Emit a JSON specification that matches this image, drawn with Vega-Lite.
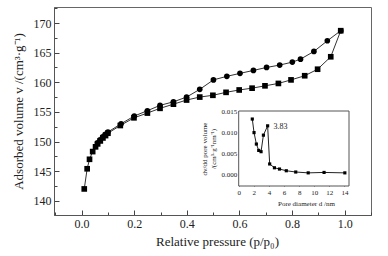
{
  "$schema": "https://vega.github.io/schema/vega-lite/v6.json",
  "width": 317,
  "height": 208,
  "autosize": {"type": "none"},
  "padding": {"left": 54, "top": 7, "right": 17, "bottom": 41},
  "background": "white",
  "config": {
    "view": {"stroke": "#666", "strokeWidth": 1},
    "font": "Liberation Serif",
    "axis": {"labelFont": "Liberation Serif", "titleFont": "Liberation Serif", "labelColor": "#222", "titleColor": "#222", "titleFontWeight": "normal", "domainColor": "#555", "tickColor": "#444", "grid": false}
  },
  "datasets": {
    "iso": [
      {"p": 0.01, "v": 142.0, "branch": "ads"},
      {"p": 0.021, "v": 145.4, "branch": "ads"},
      {"p": 0.03, "v": 147.0, "branch": "ads"},
      {"p": 0.042, "v": 148.3, "branch": "ads"},
      {"p": 0.053, "v": 149.1, "branch": "ads"},
      {"p": 0.061, "v": 149.6, "branch": "ads"},
      {"p": 0.071, "v": 150.1, "branch": "ads"},
      {"p": 0.081, "v": 150.6, "branch": "ads"},
      {"p": 0.091, "v": 151.0, "branch": "ads"},
      {"p": 0.1, "v": 151.4, "branch": "ads"},
      {"p": 0.147, "v": 152.7, "branch": "ads"},
      {"p": 0.199, "v": 154.0, "branch": "ads"},
      {"p": 0.25, "v": 154.8, "branch": "ads"},
      {"p": 0.298, "v": 155.6, "branch": "ads"},
      {"p": 0.349, "v": 156.3, "branch": "ads"},
      {"p": 0.399, "v": 157.0, "branch": "ads"},
      {"p": 0.449, "v": 157.5, "branch": "ads"},
      {"p": 0.499, "v": 157.8, "branch": "ads"},
      {"p": 0.549, "v": 158.3, "branch": "ads"},
      {"p": 0.599, "v": 158.7, "branch": "ads"},
      {"p": 0.648, "v": 159.0, "branch": "ads"},
      {"p": 0.697, "v": 159.4, "branch": "ads"},
      {"p": 0.748, "v": 159.8, "branch": "ads"},
      {"p": 0.796, "v": 160.4, "branch": "ads"},
      {"p": 0.848, "v": 161.1, "branch": "ads"},
      {"p": 0.897, "v": 162.2, "branch": "ads"},
      {"p": 0.947, "v": 164.3, "branch": "ads"},
      {"p": 0.985, "v": 168.7, "branch": "ads"},
      {"p": 0.985, "v": 168.7, "branch": "des"},
      {"p": 0.934, "v": 167.0, "branch": "des"},
      {"p": 0.883, "v": 165.2, "branch": "des"},
      {"p": 0.832, "v": 163.9, "branch": "des"},
      {"p": 0.801, "v": 163.4, "branch": "des"},
      {"p": 0.753, "v": 162.9, "branch": "des"},
      {"p": 0.703, "v": 162.5, "branch": "des"},
      {"p": 0.653, "v": 162.0, "branch": "des"},
      {"p": 0.602, "v": 161.5, "branch": "des"},
      {"p": 0.552, "v": 161.0, "branch": "des"},
      {"p": 0.501, "v": 160.4, "branch": "des"},
      {"p": 0.449, "v": 158.8, "branch": "des"},
      {"p": 0.399, "v": 157.5, "branch": "des"},
      {"p": 0.349, "v": 156.7, "branch": "des"},
      {"p": 0.298, "v": 156.1, "branch": "des"},
      {"p": 0.25, "v": 155.2, "branch": "des"},
      {"p": 0.2, "v": 154.3, "branch": "des"},
      {"p": 0.15, "v": 153.0, "branch": "des"},
      {"p": 0.1, "v": 151.6, "branch": "des"},
      {"p": 0.09, "v": 151.2, "branch": "des"},
      {"p": 0.08, "v": 150.8, "branch": "des"},
      {"p": 0.07, "v": 150.3, "branch": "des"},
      {"p": 0.06, "v": 149.8, "branch": "des"}
    ],
    "pore": [
      {"d": 1.8, "dv": 0.0131},
      {"d": 2.03, "dv": 0.0099},
      {"d": 2.34, "dv": 0.0072},
      {"d": 2.65, "dv": 0.0057},
      {"d": 2.96, "dv": 0.0054},
      {"d": 3.27, "dv": 0.0093},
      {"d": 3.83, "dv": 0.0115},
      {"d": 4.1, "dv": 0.0025},
      {"d": 4.73, "dv": 0.0016},
      {"d": 5.4, "dv": 0.0013},
      {"d": 6.3, "dv": 0.0009},
      {"d": 7.55, "dv": 0.0006},
      {"d": 9.2, "dv": 0.0004},
      {"d": 11.3, "dv": 0.0005},
      {"d": 14.05, "dv": 0.0004}
    ],
    "peak": [{"d": 4.6, "dv": 0.0113, "label": "3.83"}],
    "frame": [{"x0": 0, "x1": 14.6, "y0": -0.0027, "y1": 0.015}]
  },
  "layer": [
    {
      "data": {"name": "iso"},
      "encoding": {
        "x": {"field": "p", "type": "quantitative",
          "scale": {"domain": [-0.105, 1.1], "nice": false, "zero": false},
          "axis": {"orient": "bottom", "values": [-0.1, 0, 0.1, 0.2, 0.3, 0.4, 0.5, 0.6, 0.7, 0.8, 0.9, 1.0, 1.1],
            "labelExpr": "abs(round(datum.value*10)) % 2 == 0 && datum.value >= 0 && datum.value <= 1 ? format(datum.value, '.1f') : ''",
            "tickSize": {"condition": {"test": "abs(round(datum.value*10)) % 2 == 0", "value": -5}, "value": -3},
            "labelFontSize": 12, "labelPadding": 8, "labelFlush": false, "labelOverlap": false,
            "title": "Relative pressure    (p/p₀)", "titleFontSize": 13, "titlePadding": 4, "titleX": 163}},
        "y": {"field": "v", "type": "quantitative",
          "scale": {"domain": [137.6, 172.7], "nice": false, "zero": false},
          "axis": {"orient": "left", "values": [137.5, 140, 142.5, 145, 147.5, 150, 152.5, 155, 157.5, 160, 162.5, 165, 167.5, 170, 172.5],
            "labelExpr": "datum.value % 5 == 0 ? format(datum.value, 'd') : ''",
            "tickSize": {"condition": {"test": "datum.value % 5 == 0", "value": -5}, "value": -3},
            "labelFontSize": 12, "labelPadding": 8, "labelFlush": false, "labelOverlap": false,
            "title": "Adsorbed volume    v /(cm³·g⁻¹)", "titleFontSize": 13, "titlePadding": 8}}
      },
      "layer": [
        {"mark": {"type": "line", "color": "#333", "strokeWidth": 1}, "encoding": {"detail": {"field": "branch"}}},
        {"mark": {"type": "point", "filled": true, "opacity": 1, "color": "#000", "size": 32},
          "encoding": {"shape": {"field": "branch", "type": "nominal", "scale": {"domain": ["ads", "des"], "range": ["square", "circle"]}, "legend": null}}}
      ]
    },
    {
      "layer": [
        {
          "data": {"name": "frame"},
          "mark": {"type": "rect", "fill": "white", "stroke": "#555", "strokeWidth": 1},
          "encoding": {
            "x": {"field": "x0", "type": "quantitative", "scale": {"domain": [0, 14.6], "range": [184.7, 295], "nice": false, "zero": false},
              "axis": {"orient": "bottom", "values": [0, 2, 4, 6, 8, 10, 12, 14], "offset": -29, "labelFontSize": 7, "labelPadding": 4, "tickSize": -2, "domain": false,
                "title": "Pore diameter    d /nm", "titleFontSize": 7, "titlePadding": 4, "titleX": 252, "labelFlush": false}},
            "x2": {"field": "x1"},
            "y": {"field": "y0", "type": "quantitative", "scale": {"domain": [-0.0027, 0.015], "range": [179, 104], "nice": false, "zero": false},
              "axis": {"orient": "left", "values": [0, 0.005, 0.01, 0.015], "format": ".3f", "offset": -184.7, "labelFontSize": 7, "labelPadding": 4, "tickSize": -2, "domain": false,
                "title": ["dv/dd pore volume", "/(cm³·g⁻¹nm⁻¹)"], "titleFontSize": 7, "titlePadding": 4, "labelFlush": false}},
            "y2": {"field": "y1"}
          }
        },
        {
          "data": {"name": "pore"},
          "mark": {"type": "line", "color": "#222", "strokeWidth": 1, "point": {"filled": true, "color": "#000", "shape": "square", "size": 10}},
          "encoding": {
            "x": {"field": "d", "type": "quantitative"},
            "y": {"field": "dv", "type": "quantitative"}
          }
        },
        {
          "data": {"name": "peak"},
          "mark": {"type": "text", "align": "left", "baseline": "middle", "fontSize": 8, "color": "#222", "font": "Liberation Serif"},
          "encoding": {
            "x": {"field": "d", "type": "quantitative"},
            "y": {"field": "dv", "type": "quantitative"},
            "text": {"field": "label"}
          }
        }
      ]
    }
  ],
  "resolve": {"scale": {"x": "independent", "y": "independent", "shape": "independent"}, "axis": {"x": "independent", "y": "independent"}}
}
